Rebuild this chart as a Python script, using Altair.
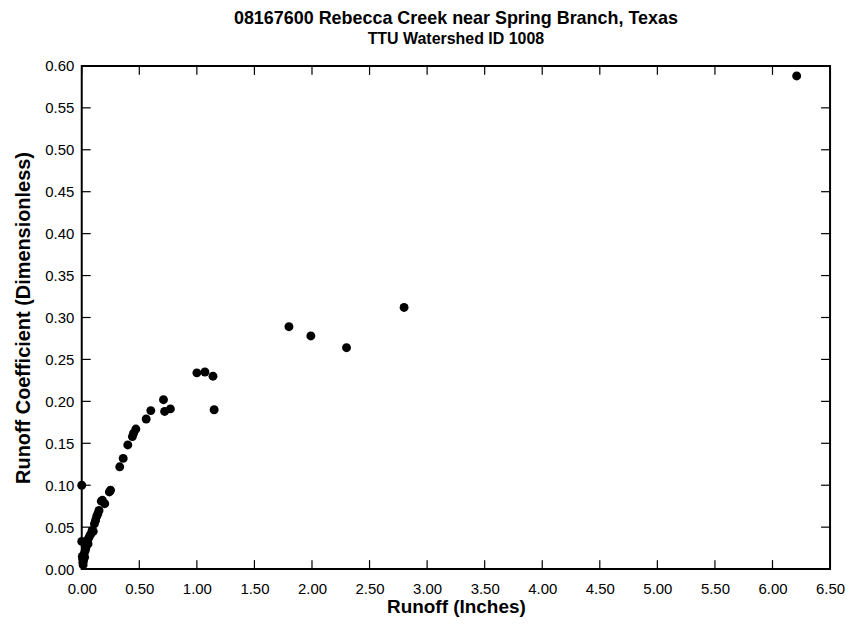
import altair as alt
import pandas as pd

runoff = [0.000, 0.000, 0.005, 0.008, 0.010, 0.012, 0.015, 0.020, 0.025, 0.030,
          0.035, 0.040, 0.045, 0.050, 0.055, 0.060, 0.070, 0.080, 0.090, 0.100,
          0.110, 0.120, 0.130, 0.140, 0.150, 0.170, 0.180, 0.200, 0.240, 0.250,
          0.330, 0.360, 0.400, 0.440, 0.450, 0.470, 0.560, 0.600, 0.710, 0.720,
          0.770, 1.000, 1.070, 1.140, 1.150, 1.800, 1.990, 2.300, 2.800, 6.210]
coef = [0.100, 0.033, 0.015, 0.012, 0.008, 0.005, 0.010, 0.018, 0.014, 0.022,
        0.025, 0.028, 0.031, 0.034, 0.030, 0.037, 0.040, 0.042, 0.046, 0.045,
        0.054, 0.058, 0.063, 0.066, 0.070, 0.081, 0.082, 0.078, 0.092, 0.094,
        0.122, 0.132, 0.148, 0.158, 0.162, 0.167, 0.179, 0.189, 0.202, 0.188,
        0.191, 0.234, 0.235, 0.230, 0.190, 0.289, 0.278, 0.264, 0.312, 0.588]

x_ticks = [0.0, 0.5, 1.0, 1.5, 2.0, 2.5, 3.0, 3.5, 4.0, 4.5, 5.0, 5.5, 6.0, 6.5]
y_ticks = [0.0, 0.05, 0.10, 0.15, 0.20, 0.25, 0.30, 0.35, 0.40, 0.45, 0.50, 0.55, 0.60]

W, H = 751, 505
TL = 9
FONT = "Liberation Sans"

df = pd.DataFrame({"runoff": runoff, "coef": coef})
xt = pd.DataFrame({"v": x_ticks})
yt = pd.DataFrame({"v": y_ticks})

xscale = alt.Scale(domain=[0, 6.5], nice=False, zero=False)
yscale = alt.Scale(domain=[0, 0.6], nice=False, zero=False)

points = alt.Chart(df).mark_circle(size=80, color="black", opacity=1).encode(
    x=alt.X("runoff:Q", scale=xscale,
            axis=alt.Axis(values=x_ticks, format=".2f", title="Runoff (Inches)",
                          grid=False, ticks=False, domain=False, labelPadding=12,
                          labelFlush=False,
                          labelFontSize=15, labelColor="black", labelFont=FONT,
                          titleFont=FONT, titleFontSize=19, titleFontWeight="bold",
                          titleColor="black", titlePadding=2)),
    y=alt.Y("coef:Q", scale=yscale,
            axis=alt.Axis(values=y_ticks, format=".2f",
                          title="Runoff Coefficient (Dimensionless)",
                          grid=False, ticks=False, domain=False, labelPadding=8,
                          labelFlush=False,
                          labelFontSize=15, labelColor="black", labelFont=FONT,
                          titleFont=FONT, titleFontSize=20, titleFontWeight="bold",
                          titleColor="black", titlePadding=11)),
)

bottom = alt.Chart(xt).mark_rule(color="black", strokeWidth=1.2).encode(
    x=alt.X("v:Q", scale=xscale), y=alt.value(H), y2=alt.value(H - TL))
top = alt.Chart(xt).mark_rule(color="black", strokeWidth=1.2).encode(
    x=alt.X("v:Q", scale=xscale), y=alt.value(0), y2=alt.value(TL))
left = alt.Chart(yt).mark_rule(color="black", strokeWidth=1.2).encode(
    y=alt.Y("v:Q", scale=yscale), x=alt.value(0), x2=alt.value(TL))
right = alt.Chart(yt).mark_rule(color="black", strokeWidth=1.2).encode(
    y=alt.Y("v:Q", scale=yscale), x=alt.value(W - TL), x2=alt.value(W))

chart = alt.layer(bottom, top, left, right, points).properties(
    width=W, height=H,
    title=alt.TitleParams(
        text="08167600 Rebecca Creek near Spring Branch, Texas",
        subtitle="TTU Watershed ID 1008",
        anchor="middle", font=FONT, fontSize=18, fontWeight="bold", color="black",
        subtitleFont=FONT, subtitleFontSize=16, subtitleFontWeight="bold",
        subtitleColor="black", subtitlePadding=3, offset=12),
    autosize=alt.AutoSizeParams(type="none"),
    padding={"left": 74, "top": 57, "right": 16, "bottom": 55},
    background="white",
).configure_view(stroke="black", strokeWidth=2)

chart.save("out.html", embed_options={"renderer": "svg", "actions": False})
